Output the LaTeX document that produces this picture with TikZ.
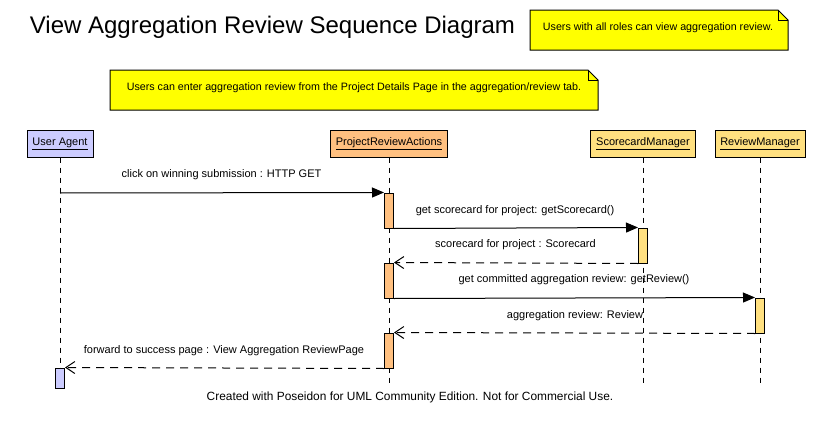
\documentclass[tikz,border=0pt]{standalone}
\usepackage{fontspec}
\setmainfont{Liberation Sans}
\usetikzlibrary{arrows.meta}
\definecolor{uaC}{RGB}{204,204,255}
\definecolor{praC}{RGB}{255,192,128}
\definecolor{smC}{RGB}{255,224,128}
\definecolor{noteC}{RGB}{255,255,0}
\tikzset{
  head/.style={draw=black, line width=1pt, inner sep=0pt, minimum height=27pt, font=\fontsize{11}{13}\selectfont},
  act/.style={draw=black, line width=1pt, inner sep=0pt, minimum width=9pt},
  life/.style={line width=1pt, dash pattern=on 5pt off 5pt},
  call/.style={line width=1pt, -{Triangle[length=12pt,width=10pt]}},
  ret/.style={line width=1pt, dash pattern=on 8pt off 6pt, -{Straight Barb[length=9pt,width=12pt,line width=1pt]}},
  msglbl/.style={inner sep=0pt, font=\fontsize{11}{13}\selectfont},
  notetxt/.style={inner sep=0pt, font=\fontsize{10.7}{12}\selectfont},
  notebox/.style={draw=black, line width=1pt, fill=noteC}
}
\begin{document}
\begin{tikzpicture}[x=1pt,y=-1pt]
\useasboundingbox (0,0) rectangle (820,423);

% title
\node[inner sep=0pt, font=\fontsize{24}{28}\selectfont] (title) at (272.5,27) {View Aggregation Review Sequence Diagram};

% note 1
\draw[notebox] (530,10) -- (778,10) -- (788,20) -- (788,50) -- (530,50) -- cycle;
\draw[line width=0.6pt] (778,10) -- (778,20) -- (788,20);
\node[notetxt] (n1) at (658,28) {Users with all roles can view aggregation review.};

% note 2
\draw[notebox] (110,70) -- (588,70) -- (598,80) -- (598,110) -- (110,110) -- cycle;
\draw[line width=0.6pt] (588,70) -- (588,80) -- (598,80);
\node[notetxt] (n2) at (354,88) {Users can enter aggregation review from the Project Details Page in the aggregation/review tab.};

% lifeline heads
\node[head, fill=uaC, minimum width=66pt] (ua) at (60,143.5) {\underline{User Agent}};
\node[head, fill=praC, minimum width=117pt] (pra) at (389,143.5) {\underline{ProjectReviewActions}};
\node[head, fill=smC, minimum width=105pt] (sm) at (643,143.5) {\underline{ScorecardManager}};
\node[head, fill=smC, minimum width=90pt] (rm) at (760,143.5) {\underline{ReviewManager}};

% lifeline ends
\coordinate (uaend) at (60,368);
\coordinate (praend) at (389,385);
\coordinate (smend) at (643,385);
\coordinate (rmend) at (760,385);
\draw[life] (ua.south) -- (uaend);
\draw[life] (pra.south) -- (praend);
\draw[life] (sm.south) -- (smend);
\draw[life] (rm.south) -- (rmend);

% activations
\node[act, fill=praC, minimum height=35pt] (p1) at (389,210.5) {};
\node[act, fill=smC, minimum height=35pt] (s1) at (643,245.5) {};
\node[act, fill=praC, minimum height=35pt] (p2) at (389,280.5) {};
\node[act, fill=smC, minimum height=35pt] (r1) at (760,315.5) {};
\node[act, fill=praC, minimum height=35pt] (p3) at (389,350.5) {};
\node[act, fill=uaC, minimum height=20pt] (u2) at (60,378) {};

\coordinate (u1) at (60,193);

% messages
\draw[call] (u1) -- (p1.north west);
\node[msglbl] (l1) at (221.5,175) {click on winning submission : HTTP GET};
\draw[call] (p1.south east) -- (s1.north west);
\node[msglbl] (l2) at (515,210.5) {get scorecard for project: getScorecard()};
\draw[ret] (s1.south west) -- (p2.north east);
\node[msglbl] (l3) at (515.5,245) {scorecard for project : Scorecard};
\draw[call] (p2.south east) -- (r1.north west);
\node[msglbl] (l4) at (574,280) {get committed aggregation review: getReview()};
\draw[ret] (r1.south west) -- (p3.north east);
\node[msglbl] (l5) at (575,315.5) {aggregation review: Review};
\draw[ret] (p3.south west) -- (u2.north east);
\node[msglbl] (l6) at (224,350.5) {forward to success page : View Aggregation ReviewPage};

% footer
\node[inner sep=0pt, font=\fontsize{11.9}{14}\selectfont] (foot) at (410,397) {Created with Poseidon for UML Community Edition. Not for Commercial Use.};
\end{tikzpicture}
\end{document}
